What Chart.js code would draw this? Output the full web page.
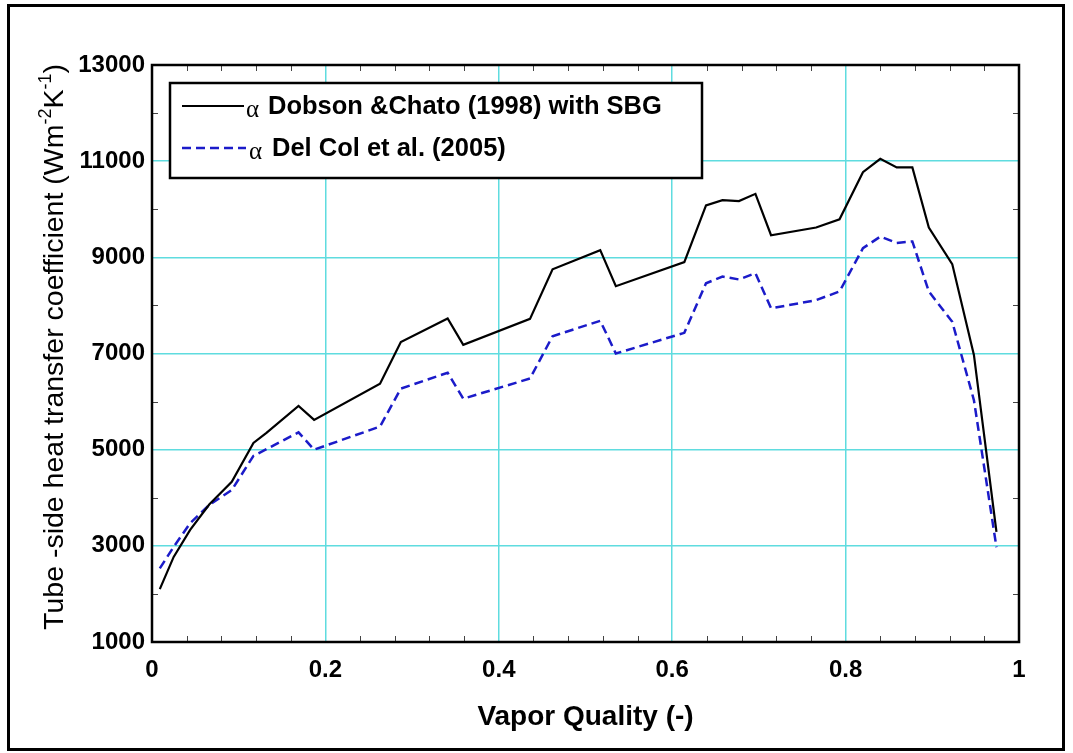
<!doctype html>
<html>
<head>
    <meta charset="UTF-8">
    <title>Tube-side heat transfer coefficient</title>
    <script src="https://cdn.jsdelivr.net/npm/chart.js@4.4.1/dist/chart.umd.min.js"></script>
    <style>
        body { margin: 0; background: #fff; }
        #canvas-holder { width: 1073px; height: 753px; }
    </style>
</head>
<body>
<div id="canvas-holder">
    <canvas id="chart-area" width="1073" height="753"></canvas>
</div>
<script>
    // vapor quality (-) and the two correlations (W m-2 K-1)
    var quality = [0.009, 0.025, 0.044, 0.066, 0.092, 0.117, 0.132, 0.169, 0.187, 0.263,
                   0.287, 0.341, 0.359, 0.436, 0.462, 0.517, 0.535, 0.614, 0.639, 0.658,
                   0.677, 0.696, 0.714, 0.766, 0.793, 0.820, 0.840, 0.859, 0.877, 0.896,
                   0.923, 0.948, 0.974];
    var dobsonChato = [2100, 2770, 3330, 3860, 4330, 5140, 5350, 5910, 5620, 6370,
                       7240, 7730, 7180, 7720, 8750, 9150, 8400, 8900, 10080, 10190,
                       10170, 10320, 9460, 9620, 9790, 10770, 11050, 10870, 10870, 9620,
                       8860, 6970, 3290];
    var delCol = [2530, 2980, 3470, 3850, 4160, 4870, 5010, 5360, 5000, 5480,
                  6270, 6600, 6060, 6480, 7360, 7680, 7000, 7430, 8460, 8600,
                  8540, 8670, 7940, 8110, 8290, 9190, 9430, 9300, 9330, 8290,
                  7660, 6030, 2970];
    var seriesNames = ['Dobson &Chato (1998) with SBG', 'Del Col et al. (2005)'];
    var xTicks = [0, 0.2, 0.4, 0.6, 0.8, 1];
    var yTicks = [1000, 3000, 5000, 7000, 9000, 11000, 13000];

    var SANS = '"Liberation Sans", Arial, Helvetica, sans-serif';
    var GRID = '#5fdcdf';
    var BLUE = '#1b1bc9';

    function points(values) {
        return quality.map(function (q, i) { return {x: q, y: values[i]}; });
    }

    // legend box, inner tick marks, frames and axis titles
    var decorPlugin = {
        id: 'decor',
        beforeDraw: function (chart) {
            var c = chart.ctx;
            c.save();
            c.fillStyle = '#fff';
            c.fillRect(0, 0, chart.width, chart.height);
            c.restore();
        },
        afterDraw: function (chart) {
            var c = chart.ctx, a = chart.chartArea;
            var sx = chart.scales.x, sy = chart.scales.y;
            c.save();

            // minor ticks, pointing inwards on all four sides
            c.strokeStyle = '#444';
            c.lineWidth = 1;
            c.beginPath();
            for (var i = 1; i < 25; i++) {
                if (i % 5 === 0) continue;
                var px = Math.round(sx.getPixelForValue(i * 0.04)) + 0.5;
                c.moveTo(px, a.bottom); c.lineTo(px, a.bottom - 6);
                c.moveTo(px, a.top); c.lineTo(px, a.top + 6);
            }
            for (var v = 2000; v < 13000; v += 2000) {
                var py = Math.round(sy.getPixelForValue(v)) + 0.5;
                c.moveTo(a.left, py); c.lineTo(a.left + 6, py);
                c.moveTo(a.right, py); c.lineTo(a.right - 6, py);
            }
            c.stroke();

            // plot frame
            c.strokeStyle = '#000';
            c.lineWidth = 2.5;
            c.strokeRect(a.left, a.top, a.right - a.left, a.bottom - a.top);

            // outer border
            c.lineWidth = 3;
            c.strokeRect(8.5, 5.5, 1055, 744);

            // legend
            var lx = a.left + 18, ly = a.top + 18;
            c.fillStyle = '#fff';
            c.fillRect(lx, ly, 532, 95);
            c.lineWidth = 2.5;
            c.strokeRect(lx, ly, 532, 95);

            c.lineWidth = 2.2;
            c.strokeStyle = '#000';
            c.beginPath();
            c.moveTo(lx + 12, ly + 23); c.lineTo(lx + 74, ly + 23);
            c.stroke();

            c.strokeStyle = BLUE;
            c.lineWidth = 2.5;
            c.setLineDash([9, 5]);
            c.beginPath();
            c.moveTo(lx + 12, ly + 65); c.lineTo(lx + 76, ly + 65);
            c.stroke();
            c.setLineDash([]);

            c.fillStyle = '#000';
            c.textAlign = 'left';
            c.textBaseline = 'alphabetic';
            c.font = '25px "Liberation Serif", "DejaVu Serif", serif';
            c.fillText('\u03b1', lx + 76, ly + 34);
            c.fillText('\u03b1', lx + 79, ly + 76);
            c.font = 'bold 25.5px ' + SANS;
            c.fillText(seriesNames[0], lx + 98, ly + 31);
            c.fillText(seriesNames[1], lx + 102, ly + 73);

            // x axis title
            c.font = 'bold 28px ' + SANS;
            c.textAlign = 'center';
            c.fillText('Vapor Quality (-)', (a.left + a.right) / 2, 725);

            // y axis title with superscripts
            var parts = [
                ['Tube -side heat transfer coefficient (Wm', 0],
                ['-2', 1], ['K', 0], ['-1', 1], [')', 0]
            ];
            var big = '28.5px ' + SANS, small = '18px ' + SANS;
            var total = 0;
            parts.forEach(function (p) {
                c.font = p[1] ? small : big;
                p.push(c.measureText(p[0]).width);
                total += p[2];
            });
            c.translate(63, 347);
            c.rotate(-Math.PI / 2);
            c.textAlign = 'left';
            var x0 = -total / 2;
            parts.forEach(function (p) {
                c.font = p[1] ? small : big;
                c.fillText(p[0], x0, p[1] ? -12 : 0);
                x0 += p[2];
            });
            c.restore();
        }
    };

    var config = {
        type: 'scatter',
        data: {
            datasets: [
                {
                    label: seriesNames[0],
                    data: points(dobsonChato),
                    showLine: true,
                    borderColor: '#000',
                    borderWidth: 2.2,
                    pointRadius: 0,
                    tension: 0
                },
                {
                    label: seriesNames[1],
                    data: points(delCol),
                    showLine: true,
                    borderColor: BLUE,
                    borderWidth: 2.5,
                    borderDash: [9, 5],
                    pointRadius: 0,
                    tension: 0
                }
            ]
        },
        options: {
            responsive: false,
            animation: false,
            layout: {padding: {top: 65, right: 54, left: 0, bottom: 0}},
            plugins: {
                legend: {display: false},
                tooltip: {enabled: false}
            },
            scales: {
                x: {
                    type: 'linear',
                    min: 0,
                    max: 1,
                    afterBuildTicks: function (s) {
                        s.ticks = xTicks.map(function (v) { return {value: v}; });
                    },
                    afterFit: function (s) { s.height = 111; },
                    ticks: {
                        color: '#000',
                        padding: 14,
                        maxRotation: 0,
                        font: {family: SANS, weight: 'bold', size: 24},
                        callback: function (v) { return String(v); }
                    },
                    grid: {color: GRID, lineWidth: 1.5, drawTicks: false},
                    border: {display: false}
                },
                y: {
                    type: 'linear',
                    min: 1000,
                    max: 13000,
                    afterBuildTicks: function (s) {
                        s.ticks = yTicks.map(function (v) { return {value: v}; });
                    },
                    afterFit: function (s) { s.width = 152; },
                    ticks: {
                        color: '#000',
                        padding: 7,
                        font: {family: SANS, weight: 'bold', size: 24},
                        callback: function (v) { return String(v); }
                    },
                    grid: {color: GRID, lineWidth: 1.5, drawTicks: false},
                    border: {display: false}
                }
            }
        },
        plugins: [decorPlugin]
    };

    var ctx = document.getElementById('chart-area').getContext('2d');
    window.myChart = new Chart(ctx, config);
</script>
</body>
</html>
